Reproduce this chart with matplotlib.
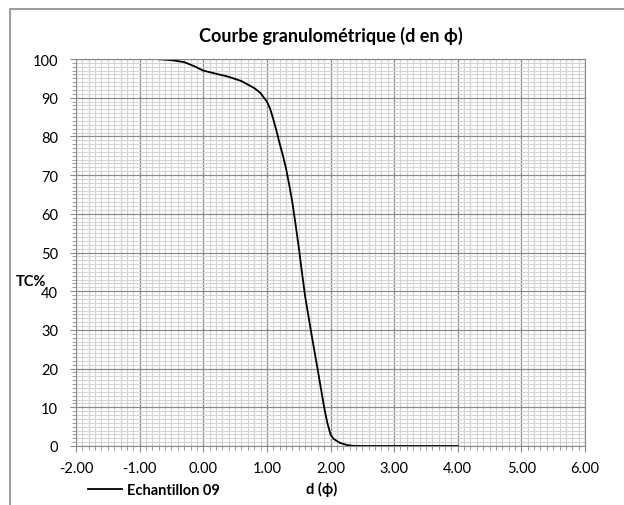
import matplotlib
matplotlib.use("Agg")
import matplotlib.pyplot as plt
from matplotlib.ticker import MultipleLocator, FormatStrFormatter
from matplotlib.patches import Rectangle

plt.rcParams['font.family'] = ['Lato', 'DejaVu Sans']

# valeurs (d en phi, TC%)
d_phi = [-1.0, -0.75, -0.5, -0.3, -0.15, 0.0, 0.2, 0.4, 0.6, 0.8, 0.9, 1.0,
         1.05, 1.1, 1.15, 1.2, 1.25, 1.3, 1.35, 1.4, 1.45, 1.5, 1.55, 1.6,
         1.7, 1.8, 1.9, 1.95, 2.0, 2.05, 2.15, 2.25, 2.35, 2.5, 3.0, 4.0]
tc = [100, 100, 99.7, 99.2, 98.2, 97.0, 96.2, 95.4, 94.3, 92.5, 91.2, 89.0,
      87.2, 84.5, 81.5, 78.2, 75.2, 71.8, 67.6, 63.0, 57.4, 51.5, 45.0, 38.8,
      29.0, 19.6, 10.0, 6.0, 3.0, 1.8, 0.8, 0.3, 0.05, 0, 0, 0]
serie = "Echantillon 09"

fig = plt.figure(figsize=(6.24, 5.06), dpi=100)
ax = fig.add_axes([76/624, 1 - 447/506, (585 - 76)/624, (447 - 60)/506])

ax.plot(d_phi, tc, color='black', lw=1.3, label=serie)

ax.set_xlim(-2, 6)
ax.set_ylim(0, 100)
ax.xaxis.set_major_locator(MultipleLocator(1))
ax.xaxis.set_minor_locator(MultipleLocator(0.1))
ax.yaxis.set_major_locator(MultipleLocator(10))
ax.yaxis.set_minor_locator(MultipleLocator(1))
ax.xaxis.set_major_formatter(FormatStrFormatter('%.2f'))

ax.grid(which='minor', color='#d4d4d4', lw=0.8)
ax.grid(which='major', color='#8a8a8a', lw=0.9)
ax.set_axisbelow(True)

for s in ax.spines.values():
    s.set_color('#8a8a8a')
ax.tick_params(which='both', direction='out', color='#8a8a8a', labelsize=10.5)
ax.tick_params(which='major', length=4)
ax.tick_params(which='minor', length=3)
ax.tick_params(axis='y', pad=9)
ax.tick_params(axis='x', pad=7)

ax.set_title("Courbe granulométrique (d en ϕ)", fontsize=13, fontweight='bold', pad=13)
ax.set_xlabel("d (ϕ)", fontsize=10.5, fontweight='bold')
ax.xaxis.set_label_coords((322 - 76)/509, (447 - 482)/387)
ax.set_ylabel("TC%", fontsize=10.5, fontweight='bold', rotation=0, ha='center', va='center')
ax.yaxis.set_label_coords((31 - 76)/509, (447 - 282)/387)

ax.legend(loc='center left', bbox_to_anchor=((88 - 76)/509, (447 - 491)/387),
          frameon=False, borderaxespad=0, borderpad=0, handlelength=2.35,
          handletextpad=0.35, prop={'weight': 'bold', 'size': 10.5})

fig.add_artist(Rectangle((10/624, -0.1), 1.1, 1.1 - 10/506,
                         transform=fig.transFigure, fill=False,
                         edgecolor='#8a8a8a', lw=1.2))

fig.savefig("out.png", dpi=100)
